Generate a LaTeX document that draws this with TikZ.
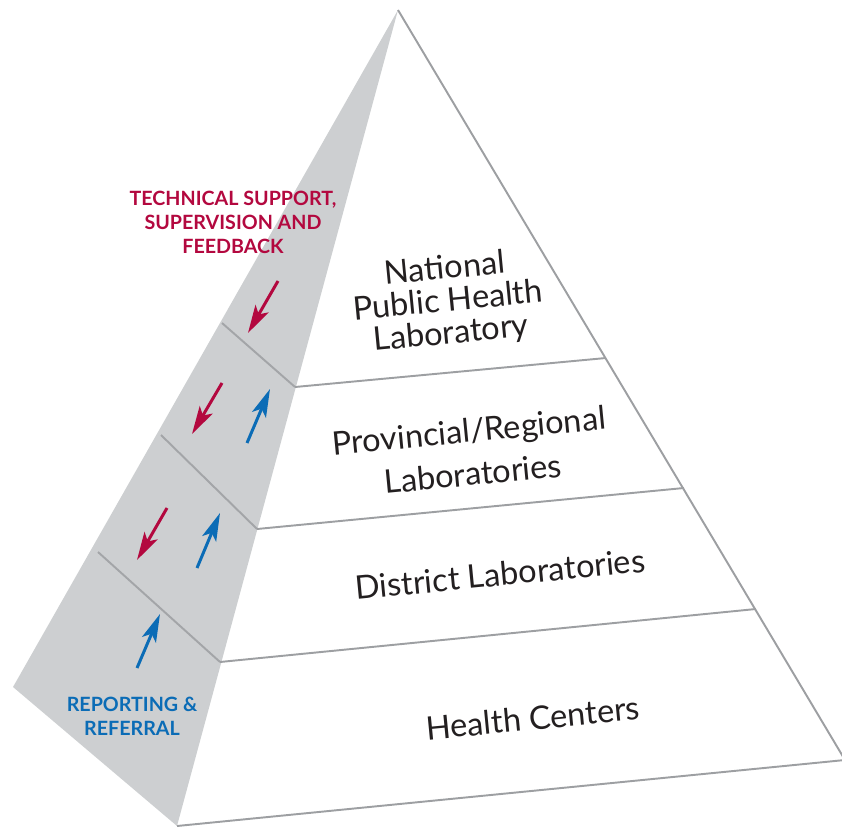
\documentclass[tikz,border=0pt]{standalone}
\usepackage{fontspec}
\setmainfont{Lato}
\usetikzlibrary{arrows.meta}
\definecolor{sidegray}{HTML}{CDCFD1}
\definecolor{edgegray}{HTML}{9D9FA2}
\definecolor{rulegray}{HTML}{A3A5A8}
\definecolor{supportred}{HTML}{B3083F}
\definecolor{reportblue}{HTML}{0B6CB6}
\definecolor{labelink}{HTML}{231F20}

\begin{document}
\begin{tikzpicture}[x=0.02cm, y=-0.02cm,
    edge/.style={draw=edgegray, line width=1.1pt},
    siderule/.style={draw=rulegray, line width=1.1pt},
    level/.style={align=center, rotate=5.5, text=labelink, font=\fontsize{18.5}{18.5}\selectfont},
    caption/.style={align=center, font=\fontsize{11.2}{13.6}\selectfont\bfseries},
    flow/.style={line width=1.7pt, -{Stealth[length=5.6mm, width=3mm, inset=1.3mm]}},
    downflow/.style={flow, draw=supportred},
    upflow/.style={flow, draw=reportblue}]
  \useasboundingbox (0,0) rectangle (842,827);
  % pyramid corners
  \coordinate (apex) at (398,10);
  \coordinate (sideL) at (13,687);
  \coordinate (baseL) at (177,826);
  \coordinate (baseR) at (845,760);
  % tier edges on the front face
  \coordinate (fl1) at (295,387);
  \coordinate (fl2) at (257,529);
  \coordinate (fl3) at (220,662);
  \coordinate (fr1) at (606,358);
  \coordinate (fr2) at (684,488);
  \coordinate (fr3) at (756,609);
  % tier edges on the side face
  \coordinate (sl1) at (222,323);
  \coordinate (sl2) at (161,435);
  \coordinate (sl3) at (98,552);
  %
  \fill[sidegray] (apex) -- (sideL) -- (baseL) -- cycle;
  \draw[siderule] (sl1) -- (fl1);
  \draw[siderule] (sl2) -- (fl2);
  \draw[siderule] (sl3) -- (fl3);
  \draw[edge] (apex) -- (baseR) -- (baseL);
  \draw[edge] (fl1) -- (fr1);
  \draw[edge] (fl2) -- (fr2);
  \draw[edge] (fl3) -- (fr3);
  %
  \node[level] (national) at (448,302) {National\\Public Health\\Laboratory};
  \node[level] (regional) at (471,452) {Provincial/Regional\\[6pt]Laboratories};
  \node[level] (district) at (500,574) {District Laboratories};
  \node[level] (centers) at (533,718) {Health Centers};
  %
  \node[caption, text=supportred] (support) at (233,222) {TECHNICAL SUPPORT,\\SUPERVISION AND\\FEEDBACK};
  \node[caption, text=reportblue] (reporting) at (132,716) {REPORTING \&\\REFERRAL};
  %
  \coordinate (d1a) at (278,281);  \coordinate (d1b) at (248,333);
  \coordinate (d2a) at (222,383);  \coordinate (d2b) at (192,434);
  \coordinate (d3a) at (167,508);  \coordinate (d3b) at (137,560);
  \coordinate (u1a) at (247,443);  \coordinate (u1b) at (270,389);
  \coordinate (u2a) at (197,568);  \coordinate (u2b) at (220,513);
  \coordinate (u3a) at (137,668);  \coordinate (u3b) at (160,614);
  \draw[downflow] (d1a) -- (d1b);
  \draw[downflow] (d2a) -- (d2b);
  \draw[downflow] (d3a) -- (d3b);
  \draw[upflow] (u1a) -- (u1b);
  \draw[upflow] (u2a) -- (u2b);
  \draw[upflow] (u3a) -- (u3b);
\end{tikzpicture}
\end{document}
